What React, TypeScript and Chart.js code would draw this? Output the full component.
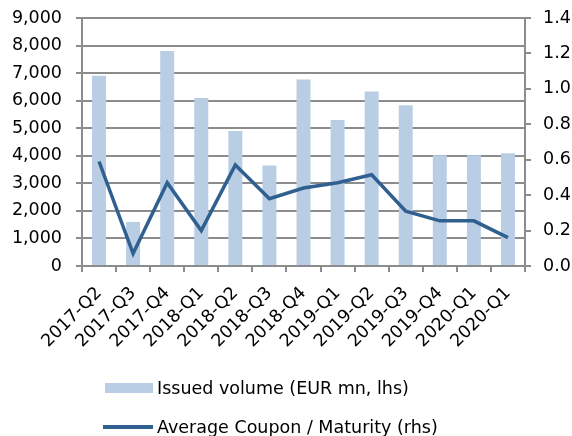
import React, { useEffect, useRef } from 'react';
import { Chart, registerables } from 'chart.js';

Chart.register(...registerables);

const categories = [
  '2017-Q2', '2017-Q3', '2017-Q4', '2018-Q1', '2018-Q2', '2018-Q3', '2018-Q4',
  '2019-Q1', '2019-Q2', '2019-Q3', '2019-Q4', '2020-Q1', '2020-Q1',
];
const issuedVolume = [6900, 1600, 7800, 6100, 4900, 3650, 6770, 5300, 6330, 5830, 4020, 4020, 4090];
const avgCouponMaturity = [0.59, 0.07, 0.47, 0.2, 0.57, 0.38, 0.44, 0.47, 0.515, 0.31, 0.255, 0.255, 0.16];
const leftAxisMax = 9000;
const leftAxisStep = 1000;
const rightAxisMax = 1.4;
const rightAxisStep = 0.2;

const barLabel = 'Issued volume (EUR mn, lhs)';
const lineLabel = 'Average Coupon / Maturity (rhs)';

const BAR_COLOR = '#b9cde5';
const LINE_COLOR = '#30608f';
const GRID_COLOR = '#8c8c8c';
const FONT_FAMILY = '"DejaVu Sans", Verdana, sans-serif';
const FONT_SIZE = 17.5;

export default function App() {
  const canvasRef = useRef<HTMLCanvasElement | null>(null);

  useEffect(() => {
    document.body.style.margin = '0';
    document.body.style.overflow = 'hidden';
    const canvas = canvasRef.current;
    if (!canvas) return;
    const font = { family: FONT_FAMILY, size: FONT_SIZE };
    const chart = new Chart(canvas, {
      type: 'bar',
      data: {
        labels: categories,
        datasets: [
          {
            type: 'line',
            label: lineLabel,
            data: avgCouponMaturity,
            yAxisID: 'yRight',
            borderColor: LINE_COLOR,
            backgroundColor: LINE_COLOR,
            borderWidth: 3.5,
            pointRadius: 0,
            tension: 0,
            order: 0,
          },
          {
            type: 'bar',
            label: barLabel,
            data: issuedVolume,
            yAxisID: 'yLeft',
            backgroundColor: BAR_COLOR,
            borderWidth: 0,
            barPercentage: 0.41,
            categoryPercentage: 1,
            order: 1,
          },
        ],
      },
      options: {
        responsive: false,
        animation: false,
        maintainAspectRatio: false,
        layout: { padding: { top: 18, left: 0, right: 0, bottom: 0 } },
        plugins: {
          legend: { display: false },
          tooltip: { enabled: false },
        },
        scales: {
          x: {
            type: 'category',
            offset: true,
            grid: {
              offset: true,
              drawOnChartArea: false,
              drawTicks: true,
              tickLength: 6,
              color: GRID_COLOR,
              lineWidth: 2,
            },
            border: { color: GRID_COLOR, width: 2 },
            ticks: {
              font,
              color: '#000',
              minRotation: 45,
              maxRotation: 45,
              autoSkip: false,
              padding: 11,
            },
            afterFit: (scale: any) => {
              scale.height = 170;
            },
          },
          yLeft: {
            type: 'linear',
            position: 'left',
            min: 0,
            max: leftAxisMax,
            grid: {
              color: GRID_COLOR,
              lineWidth: 2,
              tickLength: 6,
              drawTicks: true,
            },
            border: { color: GRID_COLOR, width: 2 },
            ticks: {
              stepSize: leftAxisStep,
              font,
              color: '#000',
              padding: 14,
              callback: (v: any) => Number(v).toLocaleString('en-US'),
            },
            afterFit: (scale: any) => {
              scale.width = 82;
              scale.paddingTop = 0;
              scale.paddingBottom = 0;
            },
          },
          yRight: {
            type: 'linear',
            position: 'right',
            min: 0,
            max: rightAxisMax,
            grid: {
              drawOnChartArea: false,
              color: GRID_COLOR,
              lineWidth: 2,
              tickLength: 6,
              drawTicks: true,
            },
            border: { color: GRID_COLOR, width: 2 },
            ticks: {
              stepSize: rightAxisStep,
              font,
              color: '#000',
              padding: 12,
              callback: (v: any) => Number(v).toFixed(1),
            },
            afterFit: (scale: any) => {
              scale.width = 47;
              scale.paddingTop = 0;
              scale.paddingBottom = 0;
            },
          },
        },
      },
    });
    return () => chart.destroy();
  }, []);

  const textStyle: React.CSSProperties = {
    fontFamily: FONT_FAMILY,
    fontSize: FONT_SIZE,
    color: '#000',
    whiteSpace: 'nowrap',
  };

  return (
    <div style={{ position: 'relative', width: 572, height: 436, overflow: 'hidden', background: '#fff' }}>
      <canvas ref={canvasRef} width={572} height={436} style={{ display: 'block' }} />
      <div style={{ position: 'absolute', left: 105, top: 376, height: 24, display: 'flex', alignItems: 'center' }}>
        <div style={{ width: 48, height: 10, background: BAR_COLOR, marginRight: 4 }} />
        <span style={textStyle}>{barLabel}</span>
      </div>
      <div style={{ position: 'absolute', left: 103, top: 415, height: 24, display: 'flex', alignItems: 'center' }}>
        <div style={{ width: 50, height: 4, background: LINE_COLOR, marginRight: 4 }} />
        <span style={textStyle}>{lineLabel}</span>
      </div>
    </div>
  );
}
